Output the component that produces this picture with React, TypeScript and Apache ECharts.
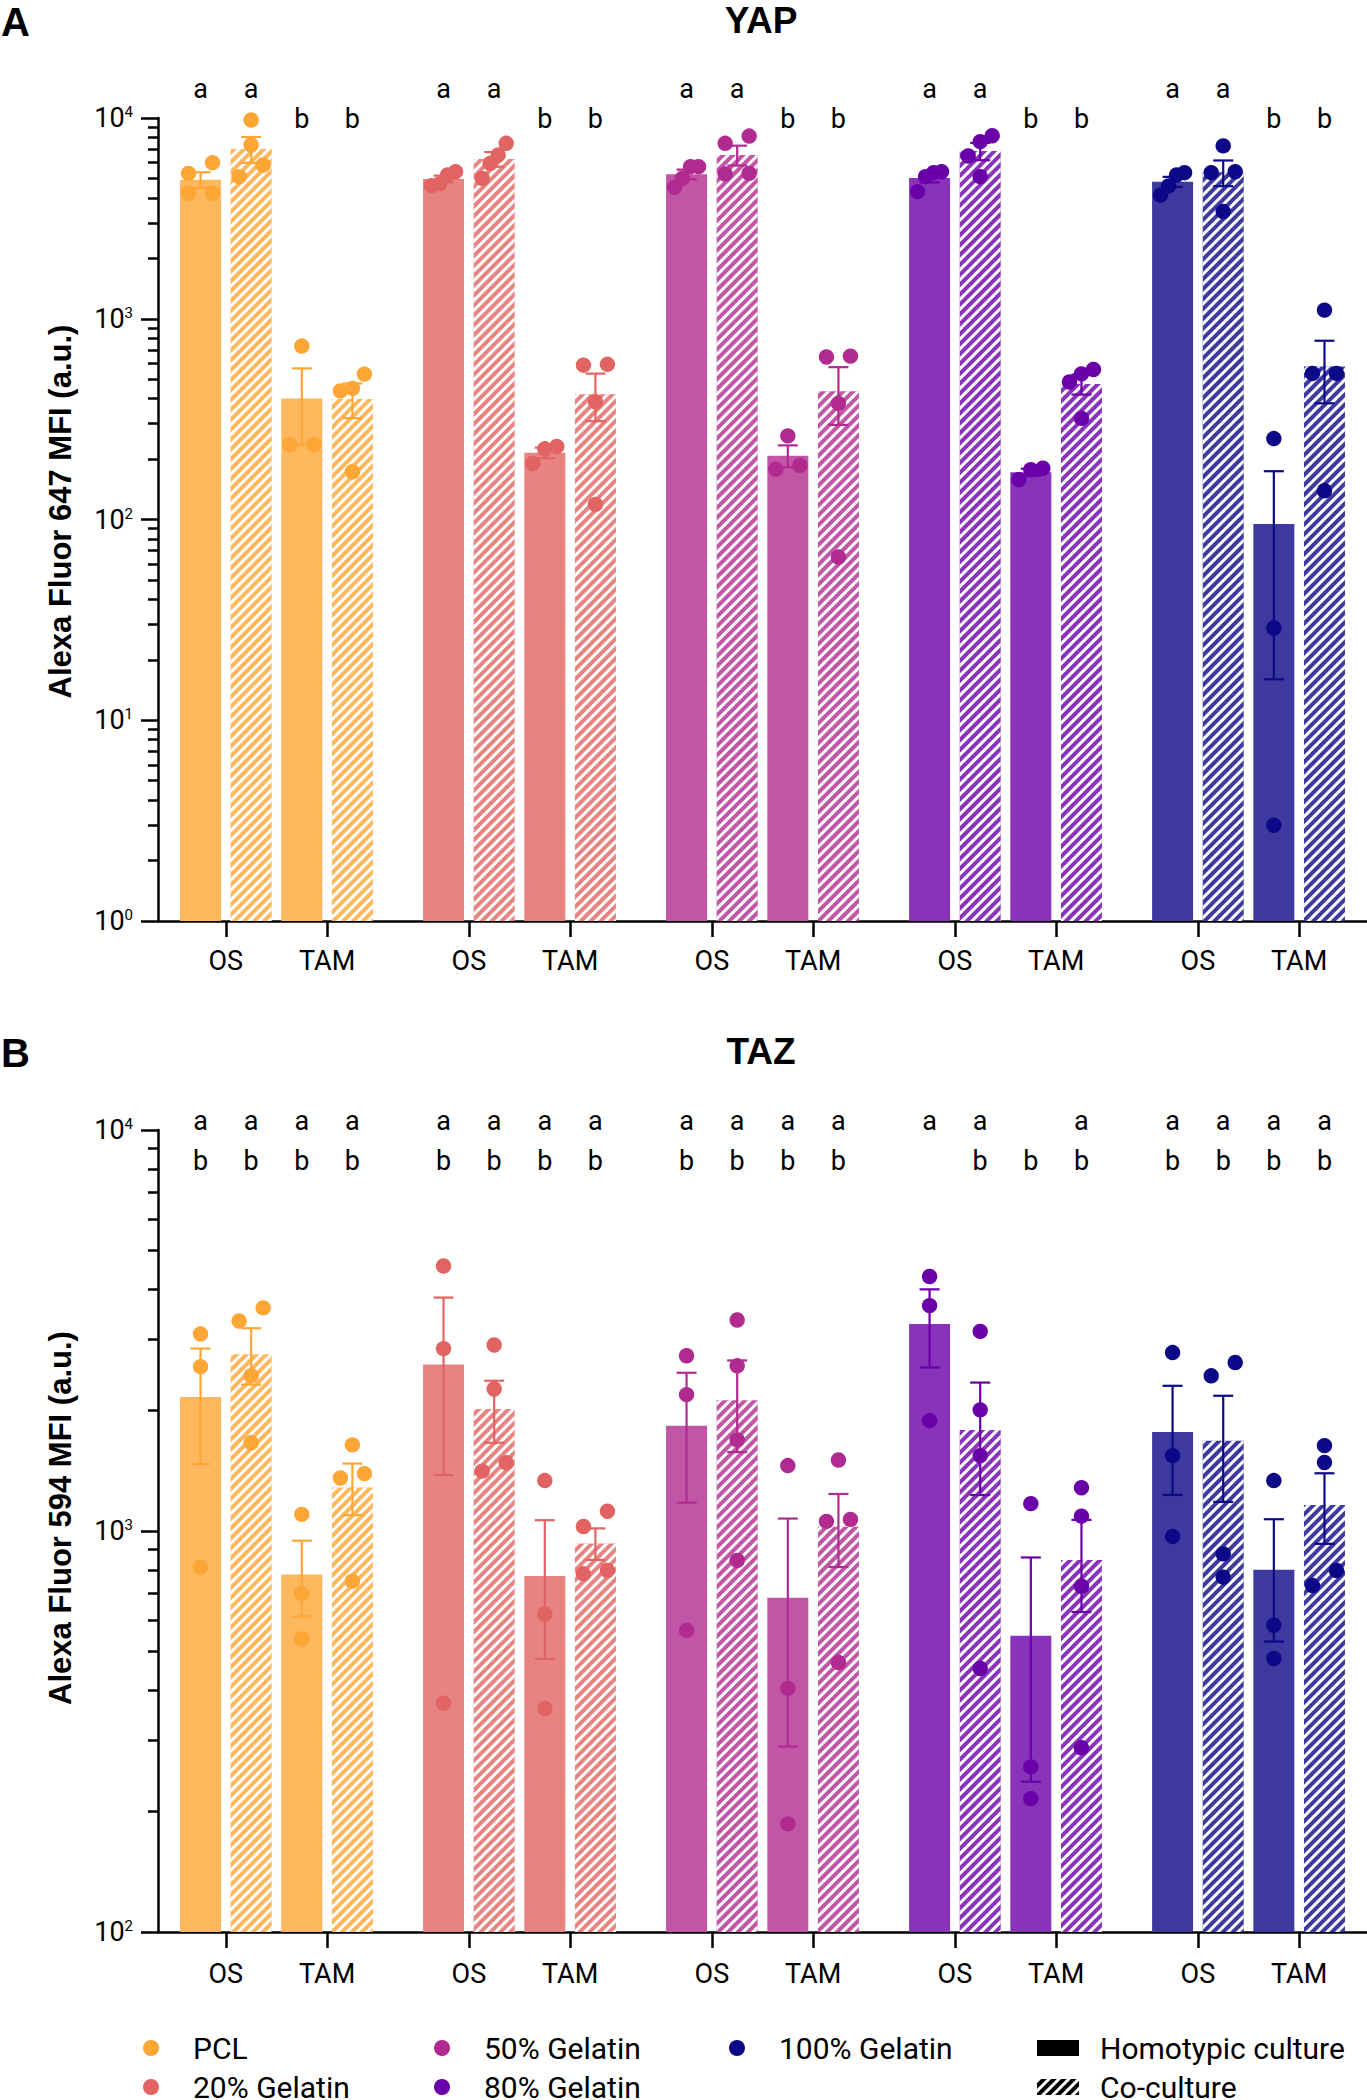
import React, { useEffect, useRef } from "react";
import * as echarts from "echarts";

// ---------------- data ----------------
const GROUPS = ["PCL", "20% Gelatin", "50% Gelatin", "80% Gelatin", "100% Gelatin"];
const CONDITIONS = ["OS", "TAM"];
const CULTURES = ["Homotypic culture", "Co-culture"];
const POINT_COLORS = ["#FCA636", "#E16462", "#B12A90", "#6A00A8", "#0D0887"];
const BAR_COLORS = ["#FDB85E", "#E78381", "#C155A6", "#8833B9", "#3D399F"];

// bar order inside each group: OS homotypic, OS co-culture, TAM homotypic, TAM co-culture
const YAP_MEAN = [4930, 7010, 401, 398, 4970, 6240, 215, 421, 5240, 6540, 208, 435, 5030, 6840, 172, 473, 4810, 5360, 95, 578];
const YAP_SEM = [435, 1031, 165, 78, 193, 521, 13, 112, 293, 741, 26, 139, 253, 678, 7, 54, 280, 784, 79, 199];
const YAP_POINTS = [
  [5300, 5990, 4220, 4220], [9770, 7340, 5830, 5100], [731, 236, 236], [450, 530, 437, 173],
  [5400, 5200, 4600, 4700], [6540, 7480, 5940, 5000], [231, 225, 190], [587, 593, 386, 119],
  [5720, 5720, 5010, 4520], [7480, 8130, 5260, 5300], [261, 178, 186], [645, 651, 379, 65],
  [5400, 5340, 5100, 4300], [7620, 8160, 6470, 5100], [158, 180, 177], [559, 531, 484, 319],
  [5340, 5200, 4590, 4130], [7260, 5400, 5340, 3420], [253, 28.8, 3.0], [1104, 534, 534, 139],
];
const YAP_LETTERS_TOP = ["a", "a", "", "", "a", "a", "", "", "a", "a", "", "", "a", "a", "", "", "a", "a", "", ""];
const YAP_LETTERS_BOTTOM = ["", "", "b", "b", "", "", "b", "b", "", "", "b", "b", "", "", "b", "b", "", "", "b", "b"];

const TAZ_MEAN = [2160, 2760, 779, 1284, 2600, 2015, 772, 931, 1829, 2118, 682, 1025, 3281, 1787, 548, 847, 1766, 1678, 800, 1161];
const TAZ_SEM = [691, 443, 167, 189, 1221, 355, 292, 84, 652, 545, 392, 212, 724, 558, 311, 219, 536, 496, 270, 232];
const TAZ_POINTS = [
  [3100, 2570, 813], [3340, 3600, 2440, 1660], [1100, 698, 538], [1640, 1390, 1356, 750],
  [4580, 2850, 372], [2910, 2260, 1480, 1410], [1336, 620, 361], [1120, 1026, 782, 797],
  [2735, 2188, 565], [3358, 2582, 1687, 845], [1456, 405, 186], [1503, 1069, 1057, 470],
  [4311, 3648, 1884], [3147, 2005, 1542, 454], [1170, 258, 215], [1282, 1089, 728, 288],
  [2786, 1542, 969], [2631, 2438, 877, 767], [1336, 582, 481], [1633, 1482, 797, 731],
];
const TAZ_LETTERS_TOP = ["a", "a", "a", "a", "a", "a", "a", "a", "a", "a", "a", "a", "a", "a", "", "a", "a", "a", "a", "a"];
const TAZ_LETTERS_BOTTOM = ["b", "b", "b", "b", "b", "b", "b", "b", "b", "b", "b", "b", "", "b", "b", "b", "b", "b", "b", "b"];

const YAP_MAJOR_TICKS = [1, 10, 100, 1000, 10000];
const YAP_MINOR_TICKS = [2, 3, 4, 5, 6, 7, 8, 9, 20, 30, 40, 50, 60, 70, 80, 90, 200, 300, 400, 500, 600, 700, 800, 900, 2000, 3000, 4000, 5000, 6000, 7000, 8000, 9000];
const TAZ_MAJOR_TICKS = [100, 1000, 10000];
const TAZ_MINOR_TICKS = [200, 300, 400, 500, 600, 700, 800, 900, 2000, 3000, 4000, 5000, 6000, 7000, 8000, 9000];

// ---------------- layout ----------------
const W = 1367;
const H = 2100;
const X_MAX = 59.7;
const FIRST_BAR = 2.1;
const GROUP_STEP = 12;
const BAR_STEP = 2.5;
const barX = (i: number) => FIRST_BAR + GROUP_STEP * Math.floor(i / 4) + BAR_STEP * (i % 4);
const TICK_X: number[] = [];
GROUPS.forEach((_, g) => {
  TICK_X.push(barX(4 * g) + BAR_STEP / 2, barX(4 * g + 2) + BAR_STEP / 2);
});
const near = (a: number, b: number) => Math.abs(a - b) < 1e-3;
const tickLabel = (v: number) => {
  const j = TICK_X.findIndex((t) => near(t, v));
  return j < 0 ? "" : CONDITIONS[j % 2];
};

const FONT = "Roboto";
const BOLD_FONT = "Liberation Sans";
const AXIS_W = 2.5;

const HATCH = {
  symbol: "rect",
  symbolSize: 1,
  dashArrayX: [1, 0],
  dashArrayY: [3, 4],
  rotation: -Math.PI / 4,
  color: "#ffffff",
};

const PANELS = [
  {
    label: "A", title: "YAP", yName: "Alexa Fluor 647 MFI (a.u.)",
    mean: YAP_MEAN, sem: YAP_SEM, points: YAP_POINTS,
    lettersTop: YAP_LETTERS_TOP, lettersBottom: YAP_LETTERS_BOTTOM,
    yMin: 1, yMax: 10000, major: YAP_MAJOR_TICKS, minor: YAP_MINOR_TICKS,
    top: 118, height: 803, letterMargins: [16, -14], xLabelMargin: 26, namePad: 16, titleY: 2,
  },
  {
    label: "B", title: "TAZ", yName: "Alexa Fluor 594 MFI (a.u.)",
    mean: TAZ_MEAN, sem: TAZ_SEM, points: TAZ_POINTS,
    lettersTop: TAZ_LETTERS_TOP, lettersBottom: TAZ_LETTERS_BOTTOM,
    yMin: 100, yMax: 10000, major: TAZ_MAJOR_TICKS, minor: TAZ_MINOR_TICKS,
    top: 1130, height: 802, letterMargins: [-4, -44], xLabelMargin: 28, namePad: 26, titleY: 1033,
  },
];

function buildOption() {
  const grid: any[] = [];
  const xAxis: any[] = [];
  const yAxis: any[] = [];
  const series: any[] = [];
  const graphic: any[] = [];

  PANELS.forEach((P, p) => {
    grid.push({ left: 158, top: P.top, width: W - 158, height: P.height, containLabel: false });

    // bottom x axis: OS / TAM
    xAxis.push({
      gridIndex: p, type: "value", min: 0, max: X_MAX, position: "bottom",
      axisLine: { show: true, onZero: false, lineStyle: { color: "#000", width: AXIS_W } },
      axisTick: { show: true, customValues: TICK_X, length: 16, lineStyle: { color: "#000", width: AXIS_W } },
      axisLabel: {
        show: true, customValues: TICK_X, formatter: (v: number) => tickLabel(v),
        margin: P.xLabelMargin, fontFamily: FONT, fontSize: 27, color: "#000",
      },
      splitLine: { show: false },
    });
    // two rows of significance letters (top axes)
    [P.lettersTop, P.lettersBottom].forEach((letters, r) => {
      const xs: number[] = [];
      letters.forEach((l, i) => { if (l) xs.push(barX(i)); });
      xAxis.push({
        gridIndex: p, type: "value", min: 0, max: X_MAX, position: "top",
        axisLine: { show: false }, axisTick: { show: false }, splitLine: { show: false },
        axisLabel: {
          show: true, customValues: xs,
          formatter: (v: number) => {
            const i = letters.findIndex((l, k) => l && near(barX(k), v));
            return i < 0 ? "" : letters[i];
          },
          margin: P.letterMargins[r], fontFamily: FONT, fontSize: 27, color: "#000",
        },
      });
    });

    // y axes (major with labels, minor ticks)
    yAxis.push({
      gridIndex: p, type: "log", logBase: 10, min: P.yMin, max: P.yMax, position: "left",
      axisLine: { show: true, onZero: false, lineStyle: { color: "#000", width: AXIS_W } },
      axisTick: { show: true, customValues: P.major, length: 17, lineStyle: { color: "#000", width: AXIS_W } },
      axisLabel: {
        show: true, customValues: P.major,
        formatter: (v: number) => "10{s|" + Math.round(Math.log10(v)) + "}",
        margin: 25, fontFamily: FONT, fontSize: 27, lineHeight: 27, color: "#000",
        rich: { s: { fontFamily: FONT, fontSize: 15, lineHeight: 16, verticalAlign: "top", color: "#000" } },
      },
      splitLine: { show: false },
      minorTick: { show: false },
      name: P.yName, nameLocation: "middle", nameRotate: 90, nameGap: 82,
      nameTextStyle: {
        fontFamily: BOLD_FONT, fontWeight: "bold", fontSize: 31, color: "#000",
        padding: [0, 0, 0, P.namePad],
      },
    });
    yAxis.push({
      gridIndex: p, type: "log", logBase: 10, min: P.yMin, max: P.yMax, position: "left",
      axisLine: { show: false },
      axisTick: { show: true, customValues: P.minor, length: 10, lineStyle: { color: "#000", width: AXIS_W } },
      axisLabel: { show: false },
      splitLine: { show: false },
    });

    const xi = p * 3;
    const yi = p * 2;

    // bars
    CULTURES.forEach((name, c) => {
      const data: any[] = [];
      P.mean.forEach((m, i) => {
        if (i % 2 !== c) return;
        const g = Math.floor(i / 4);
        data.push({ value: [barX(i), m], itemStyle: { color: BAR_COLORS[g] } });
      });
      series.push({
        type: "bar", name, xAxisIndex: xi, yAxisIndex: yi, barWidth: 41, barGap: "-100%", z: 2,
        itemStyle: c === 0 ? { color: "#000" } : { color: "#000", decal: HATCH },
        emphasis: { disabled: true },
        data,
      });
    });

    // points + error bars
    GROUPS.forEach((gname, g) => {
      const color = POINT_COLORS[g];
      const data = [0, 1, 2, 3].map((k) => {
        const i = g * 4 + k;
        return [barX(i), P.mean[i], P.sem[i], i];
      });
      series.push({
        type: "custom", name: gname, xAxisIndex: xi, yAxisIndex: yi, z: 3,
        itemStyle: { color },
        encode: { x: 0, y: 1 },
        data,
        renderItem: (params: any, api: any) => {
          const x = api.value(0);
          const m = api.value(1);
          const s = api.value(2);
          const i = api.value(3);
          const cx = api.coord([x, m])[0];
          const yTop = api.coord([x, m + s])[1];
          const yBot = api.coord([x, m - s])[1];
          const pts = P.points[i].map((v: number) => ({ v, y: api.coord([x, v])[1] }));
          pts.sort((a: any, b: any) => b.y - a.y);
          const clusters: any[][] = [];
          pts.forEach((pt: any) => {
            const last = clusters[clusters.length - 1];
            if (last && Math.abs(last[last.length - 1].y - pt.y) < 16) last.push(pt);
            else clusters.push([pt]);
          });
          const children: any[] = [];
          clusters.forEach((cl) => {
            const n = cl.length;
            const sorted = [...cl].sort((a, b) => a.v - b.v);
            sorted.forEach((pt, j) => {
              const off = n === 1 ? 0 : -12 + (24 * j) / (n - 1);
              children.push({
                type: "circle",
                shape: { cx: cx + off, cy: pt.y, r: 7.7 },
                style: { fill: color },
              });
            });
          });
          const ls = { stroke: color, lineWidth: 2.2 };
          children.push({ type: "line", shape: { x1: cx, y1: yTop, x2: cx, y2: yBot }, style: ls });
          children.push({ type: "line", shape: { x1: cx - 10, y1: yTop, x2: cx + 10, y2: yTop }, style: ls });
          children.push({ type: "line", shape: { x1: cx - 10, y1: yBot, x2: cx + 10, y2: yBot }, style: ls });
          return { type: "group", children };
        },
      });
    });

    graphic.push({
      type: "text", x: 1, y: P.titleY,
      style: { text: P.label, fontFamily: BOLD_FONT, fontWeight: "bold", fontSize: 40, fill: "#000", align: "left", verticalAlign: "top" },
    });
    graphic.push({
      type: "text", x: 761, y: P.titleY,
      style: { text: P.title, fontFamily: BOLD_FONT, fontWeight: "bold", fontSize: 37, fill: "#000", align: "center", verticalAlign: "top" },
    });
  });

  // legend: one component per entry, arranged in columns
  const legendText = { fontFamily: FONT, fontSize: 30, color: "#000" };
  const ROW_TOP = [2033, 2072];
  const legendItems = [
    { name: GROUPS[0], left: 143, row: 0, icon: "circle", w: 16, pad: 29 },
    { name: GROUPS[1], left: 143, row: 1, icon: "circle", w: 16, pad: 29 },
    { name: GROUPS[2], left: 434, row: 0, icon: "circle", w: 16, pad: 29 },
    { name: GROUPS[3], left: 434, row: 1, icon: "circle", w: 16, pad: 29 },
    { name: GROUPS[4], left: 729, row: 0, icon: "circle", w: 16, pad: 29 },
    { name: CULTURES[0], left: 1037, row: 0, icon: "rect", w: 42, pad: 16 },
    { name: CULTURES[1], left: 1037, row: 1, icon: "rect", w: 42, pad: 16 },
  ];
  const legend = legendItems.map((L) => ({
    data: [L.name], left: L.left, top: ROW_TOP[L.row], orient: "horizontal", icon: L.icon,
    itemWidth: L.w, itemHeight: 16, selectedMode: false, padding: 0,
    textStyle: { ...legendText, padding: [0, 0, 0, L.pad] },
  }));

  return {
    animation: false,
    backgroundColor: "#ffffff",
    textStyle: { fontFamily: FONT },
    grid, xAxis, yAxis, series, graphic, legend,
  };
}

export default function App() {
  const ref = useRef<HTMLDivElement>(null);
  useEffect(() => {
    if (!ref.current) return;
    const chart = echarts.init(ref.current, undefined, { renderer: "svg" });
    chart.setOption(buildOption() as any);
    return () => chart.dispose();
  }, []);
  return (
    <div
      ref={ref}
      style={{ position: "absolute", left: 0, top: 0, width: W, height: H, background: "#fff" }}
    />
  );
}
